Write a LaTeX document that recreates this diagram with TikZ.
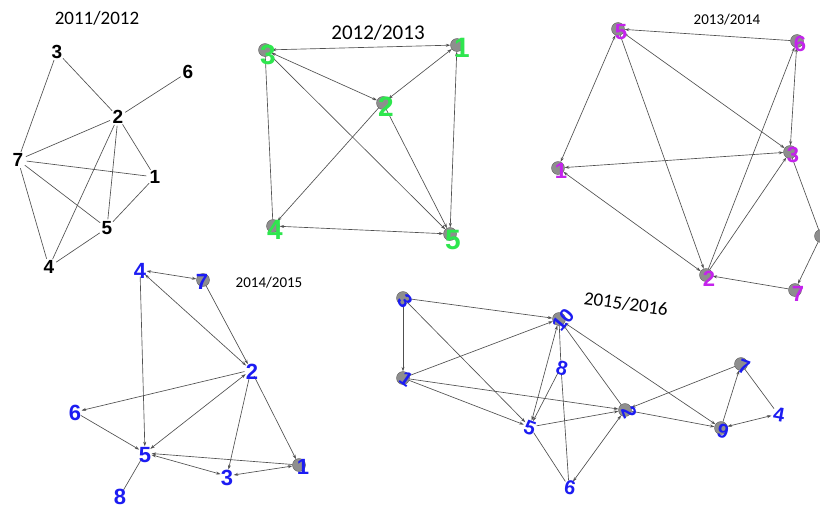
\documentclass[tikz,border=0pt]{standalone}
\usepackage{fontspec}
\setmainfont{Liberation Sans}
\newfontfamily\titlefont{Carlito}
\usetikzlibrary{arrows.meta}

\definecolor{edgegray}{HTML}{505050}
\definecolor{dotgray}{HTML}{8E8E8E}
\definecolor{nodegreen}{HTML}{2EE64E}
\definecolor{nodepurple}{HTML}{C423EC}
\definecolor{nodeblue}{HTML}{1C1CF2}

\begin{document}
\begin{tikzpicture}[x=1pt,y=-1pt,
  >={Stealth[length=4.5pt,width=3pt]},
  edge/.style={draw=edgegray, line width=0.65pt},
  title/.style={font=\titlefont\fontsize{#1}{#1}\selectfont, text=black, inner sep=0pt},
  gdot/.style={circle, fill=dotgray, draw=edgegray, line width=0.3pt, minimum size=13pt, inner sep=0pt},
  hole/.style={circle, minimum size=13pt, inner sep=0pt},
  blk/.style={circle, inner sep=0pt, minimum size=13pt, font=\fontsize{19}{19}\selectfont\bfseries, text=black},
  grn/.style={inner sep=0pt, font=\fontsize{28}{28}\selectfont\bfseries, text=nodegreen},
  pur/.style={inner sep=0pt, font=\fontsize{22}{22}\selectfont\bfseries, text=nodepurple},
  blu/.style={inner sep=0pt, font=\fontsize{22}{22}\selectfont\bfseries, text=nodeblue},
  blv/.style={inner sep=0pt, font=\fontsize{20}{20}\selectfont\bfseries, text=nodeblue},
]
\useasboundingbox[fill=white] (0,0) rectangle (820,509);

% ---------------- 2011/2012 ----------------
\node[title=19] (t1) at (97,18) {2011/2012};
\node[blk] (a3) at (57,52) {3};
\node[blk] (a6) at (188,72) {6};
\node[blk] (a2) at (118,117) {2};
\node[blk] (a7) at (18,160) {7};
\node[blk] (a1) at (155,177) {1};
\node[blk] (a5) at (107,228) {5};
\node[blk] (a4) at (49,267) {4};
\draw[edge] (a3) -- (a2);
\draw[edge] (a3) -- (a7);
\draw[edge] (a2) -- (a6);
\draw[edge] (a2) -- (a7);
\draw[edge] (a2) -- (a4);
\draw[edge] (a2) -- (a5);
\draw[edge] (a2) -- (a1);
\draw[edge] (a7) -- (a1);
\draw[edge] (a7) -- (a5);
\draw[edge] (a7) -- (a4);
\draw[edge] (a5) -- (a1);
\draw[edge] (a5) -- (a4);

% ---------------- 2012/2013 ----------------
\node[title=21] (t2) at (378,33) {2012/2013};
\node[gdot] (b3) at (265,50) {};
\node[gdot] (b1) at (457,45) {};
\node[gdot] (b2) at (383,103) {};
\node[gdot] (b4) at (273,226) {};
\node[gdot] (b5) at (450,234) {};
\draw[edge,<->] (b3) -- (b1);
\draw[edge,<->] (b3) -- (b2);
\draw[edge,<->] (b1) -- (b2);
\draw[edge,<->] (b3) -- (b5);
\draw[edge] (b3) -- (b4);
\draw[edge,->] (b2) -- (b4);
\draw[edge,->] (b2) -- (b5);
\draw[edge,<->] (b4) -- (b5);
\draw[edge,<->] (b1) -- (b5);
\node[grn] (b3t) at (268,55) {3};
\node[grn] (b1t) at (462,48) {1};
\node[grn] (b2t) at (386,107) {2};
\node[grn] (b4t) at (275,230) {4};
\node[grn] (b5t) at (453,240) {5};

% ---------------- 2013/2014 ----------------
\node[title=15] (t3) at (727,20) {2013/2014};
\node[gdot] (c5) at (618,29) {};
\node[gdot] (c6) at (797,41) {};
\node[gdot] (c3) at (790,152) {};
\node[gdot] (c1) at (558,168) {};
\node[gdot] (c2) at (706,275) {};
\node[gdot] (c7) at (795,290) {};
\node[gdot] (c8) at (821,236) {};
\draw[edge,->] (c6) -- (c5);
\draw[edge,<->] (c5) -- (c1);
\draw[edge,->] (c5) -- (c2);
\draw[edge,<->] (c3) -- (c5);
\draw[edge,<->] (c6) -- (c3);
\draw[edge,<->] (c1) -- (c3);
\draw[edge,<->] (c1) -- (c2);
\draw[edge,->] (c2) -- (c6);
\draw[edge,->] (c2) -- (c3);
\draw[edge,->] (c7) -- (c2);
\draw[edge] (c3) -- (c8);
\draw[edge,->] (c8) -- (c7);
\node[pur] (c5t) at (621,32) {5};
\node[pur] (c6t) at (800,44) {6};
\node[pur] (c3t) at (793,155) {3};
\node[pur] (c1t) at (561,171) {1};
\node[pur] (c2t) at (709,279) {2};
\node[pur] (c7t) at (798,294) {7};

% ---------------- 2014/2015 ----------------
\node[title=15] (t4) at (269,283) {2014/2015};
\node[hole] (d4) at (140,270) {};
\node[gdot] (d7) at (203,280) {};
\node[hole] (d2) at (251,370) {};
\node[hole] (d6) at (75,412) {};
\node[hole] (d5) at (145,453) {};
\node[hole] (d3) at (227,476) {};
\node[gdot] (d1) at (299,465) {};
\node[hole] (d8) at (120,496) {};
\draw[edge,<->] (d4) -- (d7);
\draw[edge,<->] (d2) -- (d4);
\draw[edge,->] (d7) -- (d2);
\draw[edge,->] (d4) -- (d5);
\draw[edge,->] (d2) -- (d6);
\draw[edge,<->] (d2) -- (d5);
\draw[edge,->] (d2) -- (d3);
\draw[edge,->] (d2) -- (d1);
\draw[edge,->] (d6) -- (d5);
\draw[edge,->] (d1) -- (d5);
\draw[edge,<->] (d5) -- (d3);
\draw[edge,<->] (d3) -- (d1);
\draw[edge] (d5) -- (d8);
\node[blu] (d4t) at (140,271) {4};
\node[blu] (d7t) at (202,282) {7};
\node[blu] (d2t) at (252,372) {2};
\node[blu] (d6t) at (75,413) {6};
\node[blu] (d5t) at (145,455) {5};
\node[blu] (d3t) at (227,478) {3};
\node[blu] (d1t) at (303,467) {1};
\node[blu] (d8t) at (120,497) {8};

% ---------------- 2015/2016 ----------------
\node[title=19, rotate=-8] (t5) at (626,304) {2015/2016};
\node[gdot] (e3) at (403,298) {};
\node[gdot] (e10) at (559,319) {};
\node[gdot] (e1) at (403,378) {};
\node[hole] (e8) at (561,367) {};
\node[gdot] (e2) at (625,410) {};
\node[hole] (e5) at (530,427) {};
\node[gdot] (e7) at (741,364) {};
\node[hole] (e4) at (778,414) {};
\node[gdot] (e9) at (721,428) {};
\node[hole] (e6) at (569,487) {};
\draw[edge,->] (e3) -- (e10);
\draw[edge,->] (e3) -- (e1);
\draw[edge,->] (e3) -- (e5);
\draw[edge,->] (e1) -- (e10);
\draw[edge,->] (e1) -- (e2);
\draw[edge,->] (e1) -- (e5);
\draw[edge,<->] (e10) -- (e5);
\draw[edge] (e10) -- (e8);
\draw[edge,->] (e8) -- (e5);
\draw[edge] (e8) -- (e6);
\draw[edge,<-] (e10) -- (e2);
\draw[edge,<->] (e10) -- (e9);
\draw[edge,->] (e5) -- (e2);
\draw[edge] (e5) -- (e6);
\draw[edge,<->] (e2) -- (e6);
\draw[edge,->] (e7) -- (e2);
\draw[edge,->] (e2) -- (e9);
\draw[edge,->] (e9) -- (e7);
\draw[edge] (e7) -- (e4);
\draw[edge,<->] (e9) -- (e4);
\node[blv, rotate=-55] (e3t) at (405,301) {3};
\node[blv, rotate=50] (e10t) at (563,320) {10};
\node[blv, rotate=-35] (e1t) at (406,379) {1};
\node[blv, rotate=-15] (e8t) at (562,368) {8};
\node[blv, rotate=-70] (e2t) at (629,412) {2};
\node[blv, rotate=-20] (e5t) at (530,428) {5};
\node[blv, rotate=-20] (e7t) at (744,367) {7};
\node[blv, rotate=-10] (e4t) at (779,415) {4};
\node[blv, rotate=-15] (e9t) at (723,431) {9};
\node[blv, rotate=-10] (e6t) at (570,488) {6};
\end{tikzpicture}
\end{document}
